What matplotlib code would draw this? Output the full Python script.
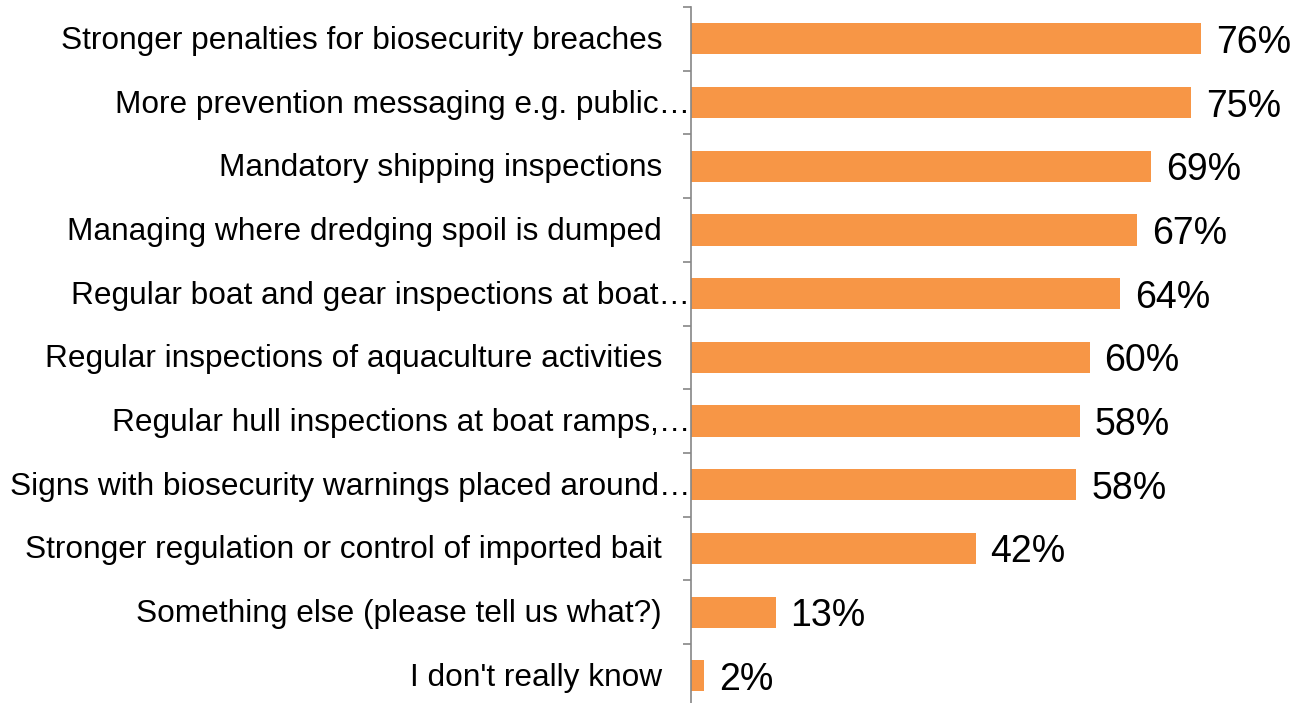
import numpy as np
import matplotlib
matplotlib.use("Agg")
import matplotlib.pyplot as plt
from matplotlib.transforms import offset_copy

categories = [
    "Stronger penalties for biosecurity breaches",
    "More prevention messaging e.g. public\u2026",
    "Mandatory shipping inspections",
    "Managing where dredging spoil is dumped",
    "Regular boat and gear inspections at boat\u2026",
    "Regular inspections of aquaculture activities",
    "Regular hull inspections at boat ramps,\u2026",
    "Signs with biosecurity warnings placed around\u2026",
    "Stronger regulation or control of imported bait",
    "Something else (please tell us what?)",
    "I don't really know",
]
# underlying shares and the rounded labels shown
values = [76.0, 74.5, 68.5, 66.5, 64.0, 59.4, 57.9, 57.4, 42.4, 12.6, 2.0]
value_labels = ["76%", "75%", "69%", "67%", "64%", "60%", "58%", "58%", "42%", "13%", "2%"]

plt.rcParams["font.family"] = ["Liberation Sans", "DejaVu Sans"]

fig = plt.figure(figsize=(13.08, 7.03), dpi=100)
ax = fig.add_axes([0.5283, -0.0067, 0.4617, 0.9967])

y = np.arange(len(categories))
ax.barh(y, values, height=0.49, color="#F79646")
ax.set_ylim(len(categories) - 0.5, -0.5)
ax.set_xlim(0, 90)

for s in ["top", "right", "bottom"]:
    ax.spines[s].set_visible(False)
ax.spines["left"].set_color("#868686")
ax.spines["left"].set_linewidth(1.2)
ax.set_xticks([])
ax.set_yticks(np.arange(len(categories) + 1) - 0.5)
ax.set_yticklabels([])
ax.tick_params(axis="y", length=6, width=1.2, color="#868686")

for yi, (lab, v, vl) in enumerate(zip(categories, values, value_labels)):
    off = -1 if lab.endswith("\u2026") else -29
    tr = offset_copy(ax.get_yaxis_transform(), fig=fig, x=off, y=1.5, units="dots")
    ax.text(0, yi, lab, transform=tr, ha="right", va="center_baseline", fontsize=22.8)
    tv = offset_copy(ax.transData, fig=fig, x=15, y=0, units="dots")
    ax.text(v, yi, vl, transform=tv, ha="left", va="center_baseline", fontsize=27)

fig.savefig("out.png", dpi=100)
